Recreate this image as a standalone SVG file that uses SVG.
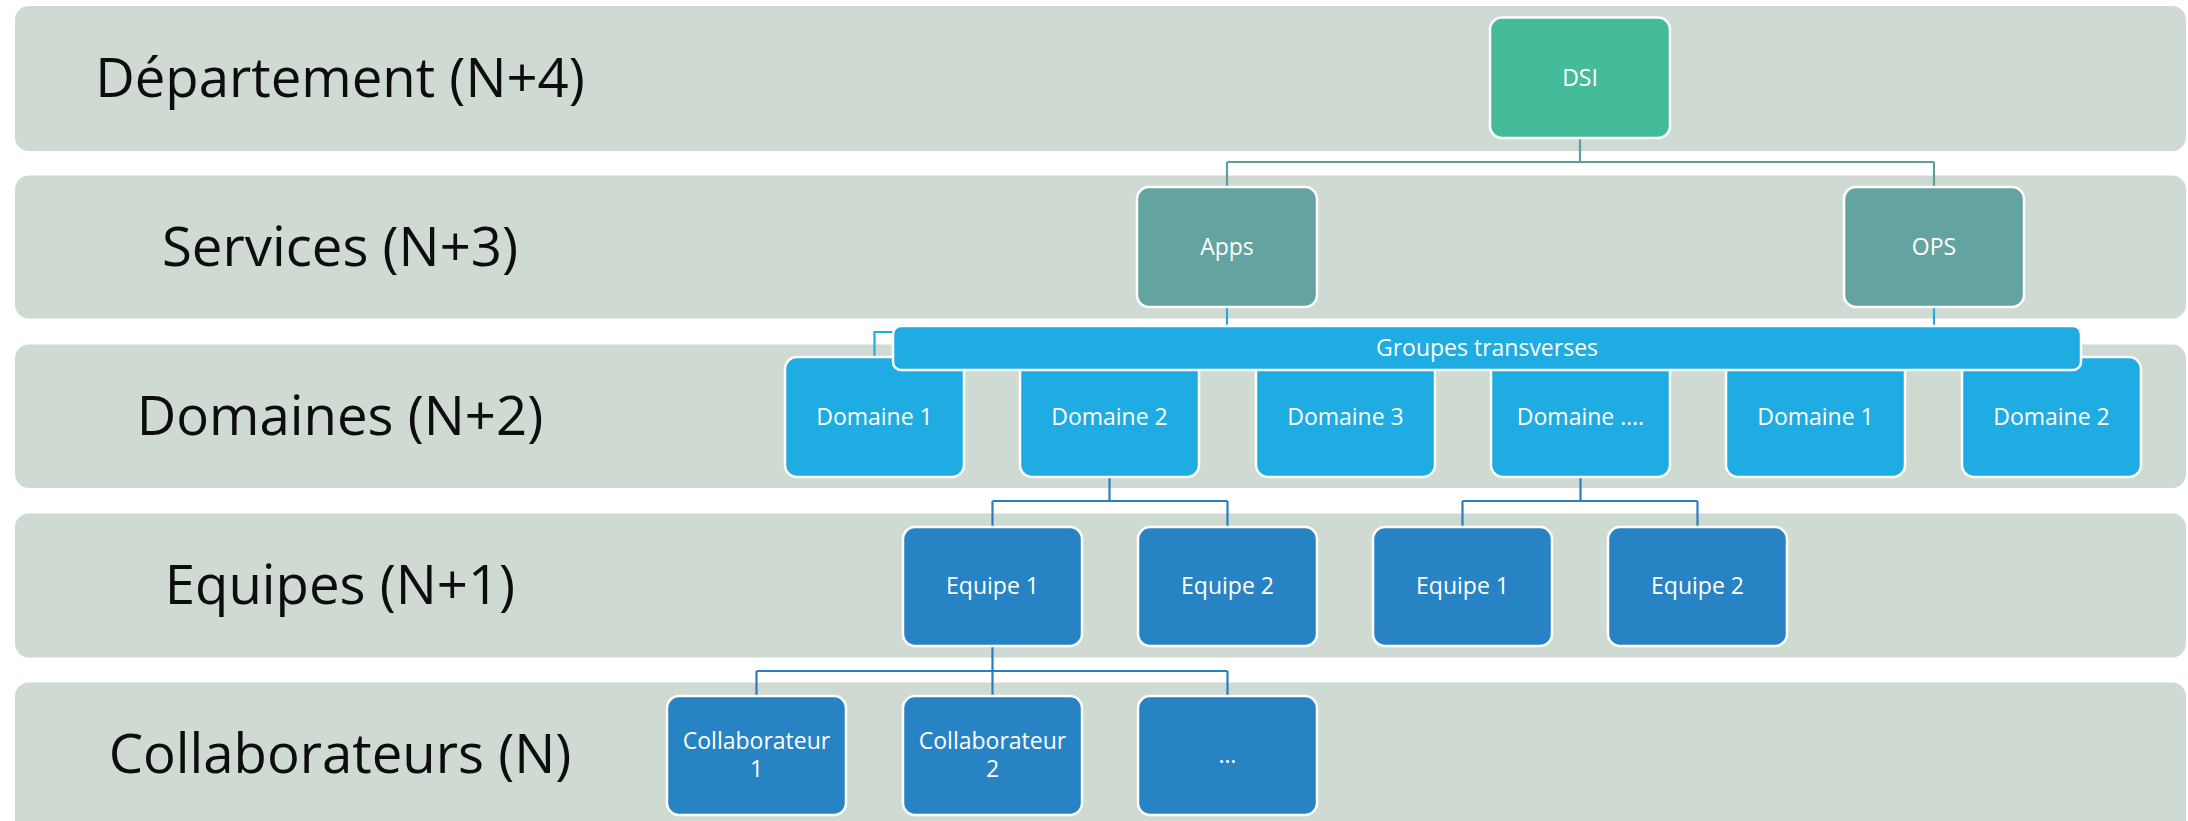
<svg xmlns="http://www.w3.org/2000/svg" width="2188" height="821" viewBox="0 0 2188 821">
  <style>
    .band { fill: #CFDAD2; }
    .level { font-family: "Open Sans", "Noto Sans", "Liberation Sans", sans-serif; font-size: 54.5px; fill: #0D0D0D; text-anchor: middle; }
    .node rect { stroke: #FFFFFF; stroke-width: 2.5; }
    .node text { font-family: "Open Sans", "Noto Sans", "Liberation Sans", sans-serif; font-size: 23px; fill: #FFFFFF; text-anchor: middle; }
    .dept rect { fill: #44BB99; }
    .svc rect { fill: #63A4A0; }
    .dom rect { fill: #1EACE2; }
    .team rect { fill: #2883C5; }
    .conn { fill: none; stroke-width: 2.2; }
    .c-teal { stroke: #5E9F9E; }
    .c-light { stroke: #1EACE2; }
    .c-dark { stroke: #2A7EC1; }
  </style>

  <rect width="2188" height="821" fill="#FFFFFF"/>

  <!-- horizontal level bands -->
  <g id="bands">
    <rect class="band" x="15" y="6" width="2171" height="145" rx="14"/>
    <rect class="band" x="15" y="175.5" width="2171" height="143" rx="14"/>
    <rect class="band" x="15" y="344.5" width="2171" height="143.5" rx="14"/>
    <rect class="band" x="15" y="513.5" width="2171" height="144" rx="14"/>
    <rect class="band" x="15" y="682.5" width="2171" height="160" rx="14"/>
    <text class="level" x="340" y="97">Département (N+4)</text>
    <text class="level" x="340" y="265.5">Services (N+3)</text>
    <text class="level" x="340" y="435">Domaines (N+2)</text>
    <text class="level" x="340" y="604">Equipes (N+1)</text>
    <text class="level" x="340" y="773">Collaborateurs (N)</text>
  </g>

  <!-- connectors -->
  <g id="connectors">
    <path class="conn c-teal" d="M1580 138 V162 M1227 162 H1934 M1227 162 V187 M1934 162 V187"/>
    <path class="conn c-light" d="M1227 307 V327 M1934 307 V327 M894 332 H874.5 V357"/>
    <path class="conn c-dark" d="M1109.5 477 V501 M992.5 501 H1227.5 M992.5 501 V527 M1227.5 501 V527"/>
    <path class="conn c-dark" d="M1580.5 477 V501 M1462.5 501 H1697.5 M1462.5 501 V527 M1697.5 501 V527"/>
    <path class="conn c-dark" d="M992.5 646 V696 M756.5 671 H1227.5 M756.5 671 V696 M1227.5 671 V696"/>
  </g>

  <!-- department -->
  <g id="node-dsi" class="node dept">
    <rect x="1490" y="17.5" width="180" height="120.5" rx="12"/>
    <text x="1580" y="86">DSI</text>
  </g>

  <!-- services -->
  <g id="node-apps" class="node svc">
    <rect x="1137" y="187" width="180" height="120" rx="12"/>
    <text x="1227" y="255">Apps</text>
  </g>
  <g id="node-ops" class="node svc">
    <rect x="1844" y="187" width="180" height="120" rx="12"/>
    <text x="1934" y="255">OPS</text>
  </g>

  <!-- domains -->
  <g id="node-domaine-1a" class="node dom">
    <rect x="785" y="357" width="179" height="120" rx="12"/>
    <text x="874.5" y="425">Domaine 1</text>
  </g>
  <g id="node-domaine-2a" class="node dom">
    <rect x="1020" y="357" width="179" height="120" rx="12"/>
    <text x="1109.5" y="425">Domaine 2</text>
  </g>
  <g id="node-domaine-3" class="node dom">
    <rect x="1256" y="357" width="179" height="120" rx="12"/>
    <text x="1345.5" y="425">Domaine 3</text>
  </g>
  <g id="node-domaine-etc" class="node dom">
    <rect x="1491" y="357" width="179" height="120" rx="12"/>
    <text x="1580.5" y="425">Domaine ….</text>
  </g>
  <g id="node-domaine-1b" class="node dom">
    <rect x="1726" y="357" width="179" height="120" rx="12"/>
    <text x="1815.5" y="425">Domaine 1</text>
  </g>
  <g id="node-domaine-2b" class="node dom">
    <rect x="1962" y="357" width="179" height="120" rx="12"/>
    <text x="2051.5" y="425">Domaine 2</text>
  </g>

  <!-- cross-cutting groups bar -->
  <g id="node-groupes" class="node dom">
    <rect x="893" y="326" width="1188" height="44" rx="8"/>
    <text x="1487" y="356">Groupes transverses</text>
  </g>

  <!-- teams -->
  <g id="node-equipe-1a" class="node team">
    <rect x="903" y="527" width="179" height="119" rx="12"/>
    <text x="992.5" y="594">Equipe 1</text>
  </g>
  <g id="node-equipe-2a" class="node team">
    <rect x="1138" y="527" width="179" height="119" rx="12"/>
    <text x="1227.5" y="594">Equipe 2</text>
  </g>
  <g id="node-equipe-1b" class="node team">
    <rect x="1373" y="527" width="179" height="119" rx="12"/>
    <text x="1462.5" y="594">Equipe 1</text>
  </g>
  <g id="node-equipe-2b" class="node team">
    <rect x="1608" y="527" width="179" height="119" rx="12"/>
    <text x="1697.5" y="594">Equipe 2</text>
  </g>

  <!-- team members -->
  <g id="node-collab-1" class="node team">
    <rect x="667" y="696" width="179" height="119" rx="12"/>
    <text x="756.5" y="749">Collaborateur</text>
    <text x="756.5" y="777">1</text>
  </g>
  <g id="node-collab-2" class="node team">
    <rect x="903" y="696" width="179" height="119" rx="12"/>
    <text x="992.5" y="749">Collaborateur</text>
    <text x="992.5" y="777">2</text>
  </g>
  <g id="node-collab-etc" class="node team">
    <rect x="1138" y="696" width="179" height="119" rx="12"/>
    <text x="1227.5" y="763">…</text>
  </g>
</svg>
